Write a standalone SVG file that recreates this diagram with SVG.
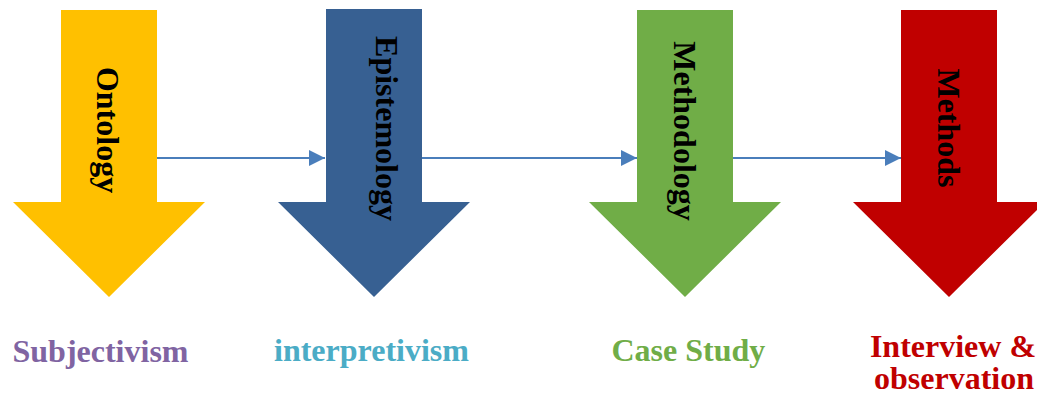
<svg xmlns="http://www.w3.org/2000/svg" width="1037" height="396" viewBox="0 0 1037 396">
<style>
.lbl{font-family:"Liberation Serif","Times New Roman",serif;font-weight:bold;font-size:32px}
.vt{font-family:"Liberation Serif","Times New Roman",serif;font-weight:bold;font-size:32px;fill:#000;text-anchor:middle}
.conn{stroke:#4A7EBB;stroke-width:2;fill:none}
</style>
<defs>
<marker id="ah" markerUnits="userSpaceOnUse" markerWidth="16" markerHeight="16" refX="16" refY="8" orient="auto">
<path d="M0,0 L16,8 L0,16 Z" fill="#4A7EBB"/>
</marker>
</defs>
<rect width="1037" height="396" fill="#fff"/>
<g id="connectors">
<line class="conn" x1="157" y1="158" x2="325" y2="158" marker-end="url(#ah)"/>
<line class="conn" x1="422" y1="158" x2="637" y2="158" marker-end="url(#ah)"/>
<line class="conn" x1="733" y1="158" x2="901" y2="158" marker-end="url(#ah)"/>
</g>
<g id="ontology">
<polygon points="61,10 157,10 157,202 205,202 109,297 13,202 61,202" fill="#FFC000"/>
<text class="vt" transform="translate(97,130) rotate(90)">Ontology</text>
</g>
<g id="epistemology">
<polygon points="326,9 422,9 422,202 470,202 374,297 278,202 326,202" fill="#376092"/>
<text class="vt" transform="translate(376,128.5) rotate(90)">Epistemology</text>
</g>
<g id="methodology">
<polygon points="637,10 733,10 733,202 781,202 685,297 589,202 637,202" fill="#70AD47"/>
<text class="vt" transform="translate(674,131) rotate(90)">Methodology</text>
</g>
<g id="methods">
<polygon points="901,10 997,10 997,202 1045,202 949,297 853,202 901,202" fill="#C00000"/>
<text class="vt" transform="translate(938,128) rotate(90)">Methods</text>
</g>
<g id="subjectivism">
<text class="lbl" x="12.5" y="362" fill="#8064A2">Subjectivism</text>
</g>
<g id="interpretivism">
<text class="lbl" x="274" y="361" fill="#4BACC6">interpretivism</text>
</g>
<g id="case-study">
<text class="lbl" x="611.5" y="361" fill="#70AD47">Case Study</text>
</g>
<g id="interview">
<text class="lbl" x="953" y="357" fill="#C00000" text-anchor="middle">Interview &amp;</text>
<text class="lbl" x="954" y="389" fill="#C00000" text-anchor="middle">observation</text>
</g>
</svg>
